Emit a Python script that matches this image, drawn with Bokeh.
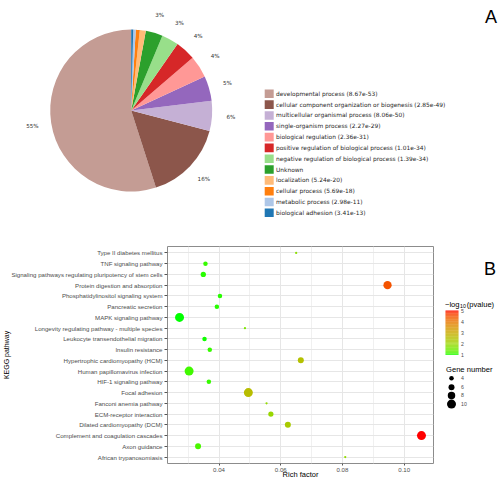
import numpy as np
from bokeh.plotting import figure
from bokeh.layouts import column, row
from bokeh.models import (Range1d, FactorRange, FixedTicker, NumeralTickFormatter,
                          ColumnDataSource, LinearColorMapper)
from bokeh.transform import transform
from bokeh.core.properties import value
from bokeh.embed import file_html
from bokeh.resources import INLINE

# ---------------- Panel A data ----------------
go_terms = ["developmental process", "cellular component organization or biogenesis",
            "multicellular organismal process", "single-organism process",
            "biological regulation", "positive regulation of biological process",
            "negative regulation of biological process", "Unknown", "localization",
            "cellular process", "metabolic process", "biological adhesion"]
go_pvalues = ["8.67e-53", "2.85e-49", "8.06e-50", "2.27e-29", "2.36e-31", "1.01e-34",
              "1.39e-34", "", "5.24e-20", "5.69e-18", "2.98e-11", "3.41e-13"]
go_percent = [55, 16, 6, 5, 4.4, 4.0, 3.4, 3.4, 1.2, 0.8, 0.5, 0.4]
go_colors = ["#c49c94", "#8c564b", "#c5b0d5", "#9467bd", "#ff9896", "#d62728",
             "#98df8a", "#2ca02c", "#ffbb78", "#ff7f0e", "#aec7e8", "#1f77b4"]

# ---------------- Panel B data (top to bottom) ----------------
pathways = ["Type II diabetes mellitus", "TNF signaling pathway",
            "Signaling pathways regulating pluripotency of stem cells",
            "Protein digestion and absorption", "Phosphatidylinositol signaling system",
            "Pancreatic secretion", "MAPK signaling pathway",
            "Longevity regulating pathway - multiple species",
            "Leukocyte transendothelial migration", "Insulin resistance",
            "Hypertrophic cardiomyopathy (HCM)", "Human papillomavirus infection",
            "HIF-1 signaling pathway", "Focal adhesion", "Fanconi anemia pathway",
            "ECM-receptor interaction", "Dilated cardiomyopathy (DCM)",
            "Complement and coagulation cascades", "Axon guidance",
            "African trypanosomiasis"]
rich_factor = [0.0650, 0.0356, 0.0349, 0.0946, 0.0403, 0.0393, 0.0272, 0.0484, 0.0353, 0.0370,
               0.0665, 0.0303, 0.0367, 0.0495, 0.0554, 0.0568, 0.0623, 0.1056, 0.0332, 0.0809]
neg_log10_p = [1.8, 1.1, 1.05, 4.5, 1.05, 1.05, 0.98, 1.6, 1.0, 1.1,
               2.5, 1.15, 1.1, 2.6, 1.9, 2.0, 2.3, 5.02, 1.2, 1.9]
gene_number = [1, 4, 5, 9, 4, 4, 10, 1, 4, 4, 6, 10, 4, 10, 1, 5, 6, 10, 6, 1]
x_ticks = [0.04, 0.06, 0.08, 0.10]
x_minor = [0.03, 0.05, 0.07, 0.09]
cbar_ticks = [1, 2, 3, 4, 5]
size_breaks = [4, 6, 8, 10]


def dot_size(n):
    return 1.5 + 0.75 * n


# ---- green -> red gradient interpolated in CIELAB (like ggplot2) ----
M = np.array([[0.4124564, 0.3575761, 0.1804375],
              [0.2126729, 0.7151522, 0.0721750],
              [0.0193339, 0.1191920, 0.9503041]])
MI = np.linalg.inv(M)
WHITE = np.array([0.95047, 1.0, 1.08883])
D = 6 / 29


def hex2lab(h):
    c = np.array([int(h[i:i + 2], 16) for i in (1, 3, 5)]) / 255.0
    lin = np.where(c <= 0.04045, c / 12.92, ((c + 0.055) / 1.055) ** 2.4)
    xyz = M @ lin / WHITE
    f = np.where(xyz > D ** 3, np.cbrt(xyz), xyz / (3 * D * D) + 4 / 29)
    return np.array([116 * f[1] - 16, 500 * (f[0] - f[1]), 200 * (f[1] - f[2])])


def lab2hex(lab):
    fy = (lab[0] + 16) / 116
    f = np.array([fy + lab[1] / 500, fy, fy - lab[2] / 200])
    xyz = np.where(f > D, f ** 3, 3 * D * D * (f - 4 / 29)) * WHITE
    lin = MI @ xyz
    lin = np.clip(lin, 0, 1)
    c = np.where(lin <= 0.0031308, 12.92 * lin, 1.055 * lin ** (1 / 2.4) - 0.055)
    c = np.clip(np.round(c * 255), 0, 255).astype(int)
    return "#%02x%02x%02x" % tuple(c)


lab_lo, lab_hi = hex2lab("#00ff00"), hex2lab("#ff0000")
palette = [lab2hex(lab_lo + t * (lab_hi - lab_lo)) for t in np.linspace(0, 1, 256)]
mapper = LinearColorMapper(palette=palette, low=min(neg_log10_p), high=max(neg_log10_p))

# ================= Panel A: pie + legend =================
top = figure(width=500, height=230, x_range=Range1d(0, 500), y_range=Range1d(-230, 0),
             output_backend="svg", toolbar_location=None, min_border=0,
             x_axis_location=None, y_axis_location=None)
top.grid.visible = False
top.outline_line_color = None

pct = np.array(go_percent, dtype=float)
frac = pct / pct.sum()
ends = np.pi / 2 + 2 * np.pi * np.cumsum(frac)
starts = ends - 2 * np.pi * frac
cx, cy, R = 130.7, -110.0, 81.0
top.wedge(x=cx, y=cy, radius=R, start_angle=starts, end_angle=ends,
          fill_color=go_colors, line_color=None)

mids = (starts + ends) / 2
show = pct >= 2.5
top.text(x=(cx + 100 * np.cos(mids))[show], y=(cy + 100 * np.sin(mids))[show],
         text=[f"{round(p)}%" for p in pct[show]], text_align="center",
         text_baseline="middle", text_font_size="5.6px", text_color="#333333",
         text_font=value("DejaVu Sans"))

leg_y = -(93.3 + 10.82 * np.arange(len(go_terms)))
top.rect(x=268.7, y=leg_y, width=9, height=8.6, fill_color=go_colors, line_color=None)
top.text(x=275.5, y=leg_y,
         text=[f"{t} ({p})" if p else t for t, p in zip(go_terms, go_pvalues)],
         text_baseline="middle", text_font_size="5.9px", text_color="#262626",
         text_font=value("DejaVu Sans"))
top.text(x=[484.5], y=[-16.5], text=["A"], text_baseline="alphabetic", text_font_size="18px",
         text_color="#000000", text_font=value("Liberation Sans"))

# ================= Panel B: dot plot =================
dot = figure(width=434, height=251, x_range=Range1d(0.0233, 0.1095),
             y_range=FactorRange(factors=pathways[::-1], range_padding=0.1,
                                 range_padding_units="absolute"),
             output_backend="svg", toolbar_location=None,
             min_border_left=164, min_border_right=1, min_border_top=16, min_border_bottom=16)
dot.xaxis.ticker = FixedTicker(ticks=x_ticks, minor_ticks=x_minor)
dot.xaxis.formatter = NumeralTickFormatter(format="0.00")
for ax in (dot.xaxis[0], dot.yaxis[0]):
    ax.axis_line_color = None
    ax.major_tick_line_color = "#555555"
    ax.major_tick_in = 0
    ax.minor_tick_line_color = None
    ax.major_label_text_font_size = "6.1px"
    ax.major_label_text_color = "#4d4d4d"
    ax.major_label_text_font = "Liberation Sans"
    ax.axis_label_text_font = "Liberation Sans"
    ax.axis_label_text_font_style = "normal"
    ax.axis_label_text_color = "#000000"
dot.yaxis.major_tick_out = 3
dot.yaxis.major_label_standoff = 2
dot.yaxis.axis_label = "KEGG pathway"
dot.yaxis.axis_label_text_font_size = "7px"
dot.yaxis.axis_label_standoff = -2
dot.xaxis.major_tick_out = 2
dot.xaxis.major_label_standoff = 0
dot.xaxis.axis_label = "Rich factor"
dot.xaxis.axis_label_text_font_size = "7.5px"
dot.xaxis.axis_label_standoff = -5
dot.xgrid.grid_line_color = "#e6e6e6"
dot.xgrid.minor_grid_line_color = "#f0f0f0"
dot.ygrid.grid_line_color = "#e6e6e6"
dot.outline_line_color = "#8c8c8c"

src = ColumnDataSource(dict(pathway=pathways, rf=rich_factor, p=neg_log10_p,
                            size=[dot_size(n) for n in gene_number]))
dot.scatter(x="rf", y="pathway", size="size", source=src, marker="circle",
            fill_color=transform("p", mapper), line_color=None)

# ================= Panel B legends =================
leg = figure(width=66, height=251, x_range=Range1d(434, 500), y_range=Range1d(-481, -230),
             output_backend="svg", toolbar_location=None, min_border=0,
             x_axis_location=None, y_axis_location=None)
leg.grid.visible = False
leg.outline_line_color = None

lo, hi = mapper.low, mapper.high
bar_top, bar_bot = 304.0, 355.5
edges = np.linspace(lo, hi, 61)


def ymap(v):
    return -(bar_bot - (np.asarray(v, dtype=float) - lo) / (hi - lo) * (bar_bot - bar_top))


bar_src = ColumnDataSource(dict(v=(edges[:-1] + edges[1:]) / 2,
                                b=ymap(edges[:-1]), t=ymap(edges[1:])))
leg.quad(left=445, right=458, bottom="b", top="t", source=bar_src,
         fill_color=transform("v", mapper), line_color=None)
leg.text(x=460.5, y=ymap(cbar_ticks), text=[str(t) for t in cbar_ticks], text_baseline="middle",
         text_font_size="5.2px", text_color="#4d4d4d", text_font=value("Liberation Sans"))
leg.text(x=[444.5], y=[-297.5], text=["\u2212log"], text_baseline="middle",
         text_font_size="7.6px", text_color="#000000", text_font=value("Liberation Sans"))
leg.text(x=[459.6], y=[-299.3], text=["10"], text_baseline="middle",
         text_font_size="5.2px", text_color="#000000", text_font=value("Liberation Sans"))
leg.text(x=[466.2], y=[-297.5], text=["(pvalue)"], text_baseline="middle",
         text_font_size="7.6px", text_color="#000000", text_font=value("Liberation Sans"))

leg.text(x=[445.5], y=[-372.3], text=["Gene number"], text_baseline="middle",
         text_font_size="7.6px", text_color="#000000", text_font=value("Liberation Sans"))
key_y = [-382.3, -392.7, -402.3, -412.3]
leg.scatter(x=451, y=key_y, size=[dot_size(n) for n in size_breaks], marker="circle",
            fill_color="#000000", line_color=None)
leg.text(x=460.5, y=key_y, text=[str(n) for n in size_breaks], text_baseline="middle",
         text_font_size="5.2px", text_color="#4d4d4d", text_font=value("Liberation Sans"))
leg.text(x=[483.5], y=[-256], text=["B"], text_baseline="alphabetic", text_font_size="18px",
         text_color="#000000", text_font=value("Liberation Sans"))

layout = column(top, row(dot, leg))
open("out.html", "w").write(file_html(layout, INLINE))
